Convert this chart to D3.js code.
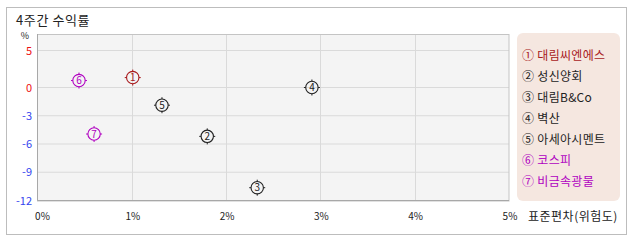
<!DOCTYPE html>
<html>
<head>
<meta charset="utf-8">
<script src="https://cdn.jsdelivr.net/npm/d3@7"></script>
<style>
  body { margin: 0; background: #fff; }
  text { font-family: "Noto Sans CJK KR", "Noto Sans", sans-serif; }
</style>
</head>
<body>
<svg id="chart" width="638" height="242"></svg>
<script>
// 4주간 수익률 vs 표준편차
var names = ["대림씨엔에스", "성신양회", "대림B&Co", "벽산", "아세아시멘트", "코스피", "비금속광물"];
var risk = [1.01, 1.80, 2.33, 2.91, 1.32, 0.44, 0.60];      // 표준편차 (%)
var ret = [1.34, -5.19, -10.64, 0.0, -1.88, 0.94, -4.94];   // 수익률 (%)
var xTicks = [0, 1, 2, 3, 4, 5];
var yTicks = [5, 0, -3, -6, -9, -12];
var circled = ["①", "②", "③", "④", "⑤", "⑥", "⑦"];

var colorOf = function(i) {
  if (i == 0) return "#a8191c";
  if (i >= 5) return "#b000c0";
  return "#222";
};

var svg = d3.select("#chart");

// outer frame
svg.append("rect")
    .attr("x", 6.5).attr("y", 7.5)
    .attr("width", 620).attr("height", 227)
    .attr("fill", "#fff").attr("stroke", "#bdbdbd");

svg.append("text")
    .attr("x", 16).attr("y", 25)
    .attr("font-size", 13).attr("fill", "#222")
    .attr("letter-spacing", 0.6)
    .text("4주간 수익률");

var x = d3.scaleLinear().domain([0, 5]).range([37.5, 509]);
// axis is not even between positive and negative side in the source
var y = d3.scaleLinear().domain([-12, 0, 5, 7.1]).range([200.5, 87.5, 50.5, 34]);

var g = svg.append("g");

g.append("rect")
    .attr("x", x(0)).attr("y", y(7.1))
    .attr("width", x(5) - x(0)).attr("height", y(-12) - y(7.1))
    .attr("fill", "#f4f4f4");

// grid
g.selectAll(".gx")
  .data(xTicks.slice(1, -1))
  .enter().append("line")
    .attr("x1", function(d) { return Math.round(x(d)) + 0.5; })
    .attr("x2", function(d) { return Math.round(x(d)) + 0.5; })
    .attr("y1", y(7.1)).attr("y2", y(-12))
    .attr("stroke", "#dadada");

g.selectAll(".gy")
  .data(yTicks.slice(0, -1))
  .enter().append("line")
    .attr("x1", x(0)).attr("x2", x(5))
    .attr("y1", function(d) { return y(d); })
    .attr("y2", function(d) { return y(d); })
    .attr("stroke", "#dadada");

// plot border
g.append("rect")
    .attr("x", x(0)).attr("y", y(7.1) + 0.5)
    .attr("width", x(5) - x(0)).attr("height", y(-12) - y(7.1))
    .attr("fill", "none").attr("stroke", "#c4c4c4");
g.append("path")
    .attr("d", "M" + x(0) + "," + y(7.1) + "V" + y(-12) + "H" + x(5))
    .attr("fill", "none").attr("stroke", "#a8a8a8");

// y labels
svg.selectAll(".yl")
  .data(yTicks)
  .enter().append("text")
    .attr("x", 32).attr("y", function(d) { return y(d) + 4; })
    .attr("text-anchor", "end")
    .attr("font-size", 11)
    .attr("fill", function(d) { return d >= 0 ? "#ee1111" : "#3344ee"; })
    .text(function(d) { return d; });

svg.append("text")
    .attr("x", 25).attr("y", 39)
    .attr("text-anchor", "middle")
    .attr("font-size", 9).attr("fill", "#222")
    .text("%");

// x labels
svg.selectAll(".xl")
  .data(xTicks)
  .enter().append("text")
    .attr("x", function(d) { return d == 0 ? x(d) + 5 : x(d) + 1; })
    .attr("y", 220)
    .attr("text-anchor", "middle")
    .attr("font-size", 10).attr("fill", "#222")
    .text(function(d) { return d + "%"; });

svg.append("text")
    .attr("x", 528).attr("y", 221)
    .attr("font-size", 12).attr("fill", "#222")
    .attr("letter-spacing", 0.5)
    .text("표준편차(위험도)");

// points
var pts = g.selectAll(".pt")
  .data(names)
  .enter().append("g")
    .attr("transform", function(d, i) { return "translate(" + x(risk[i]) + "," + y(ret[i]) + ")"; })
    .attr("stroke", function(d, i) { return colorOf(i); })
    .attr("fill", "none");

pts.append("circle").attr("r", 6.2).attr("stroke-width", 1.1);
pts.append("path")
    .attr("d", "M0,-8V-6.2M0,6.2V8M-8,0H-6.2M6.2,0H8")
    .attr("stroke-width", 1);
pts.append("text")
    .attr("y", 3.5)
    .attr("text-anchor", "middle")
    .attr("font-size", 10)
    .attr("stroke", "none")
    .attr("fill", function(d, i) { return colorOf(i); })
    .text(function(d, i) { return i + 1; });

// legend
svg.append("rect")
    .attr("x", 517).attr("y", 33)
    .attr("width", 103).attr("height", 168)
    .attr("rx", 6)
    .attr("fill", "#f5e7e0");

svg.selectAll(".lg")
  .data(names)
  .enter().append("text")
    .attr("x", 522)
    .attr("y", function(d, i) { return 59.5 + i * 21; })
    .attr("font-size", 12)
    .attr("letter-spacing", 0.3)
    .attr("fill", function(d, i) { return colorOf(i); })
    .text(function(d, i) { return circled[i] + " " + d; });
</script>
</body>
</html>
